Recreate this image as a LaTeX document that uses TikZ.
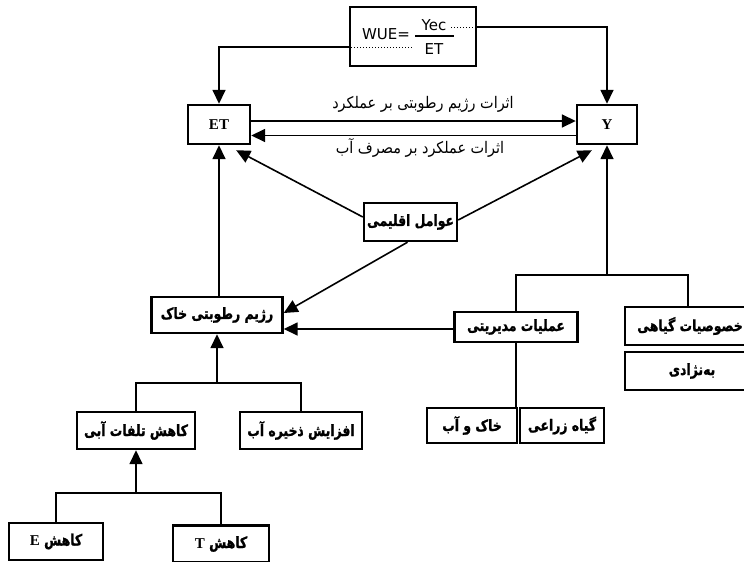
\documentclass[tikz,border=0pt]{standalone}
\usepackage{fontspec}
\usetikzlibrary{arrows.meta}
\TeXXeTstate=1
\newfontfamily\fab[Script=Arabic,FakeStretch=0.8,FakeBold=1.2]{DejaVu Sans Bold}
\newfontfamily\falbl[Script=Arabic,FakeStretch=0.9]{DejaVu Sans}
\newfontfamily\lat{Liberation Serif}
\newfontfamily\fsans{DejaVu Sans}
\begin{document}
\begin{tikzpicture}[x=1pt,y=-1pt,
  box/.style={draw,line width=2.4pt,inner sep=0pt,align=center,font=\fab\fontsize{15.5}{17}\selectfont},
  btxt/.style={inner sep=0pt,font=\fab\fontsize{15.5}{17}\selectfont},
  conn/.style={line width=1.6pt},
  arr/.style={conn,-{Triangle[length=14pt,width=13pt]}},
  lbl/.style={inner sep=0pt,font=\falbl\fontsize{16}{18}\selectfont},
  ftxt/.style={inner sep=0pt,font=\fsans\fontsize{15}{17}\selectfont}]
\useasboundingbox (0,0) rectangle (744,562);
\clip (0,0) rectangle (744,562);
% boxes
\node[box,minimum width=126pt,minimum height=59pt] (wue) at (413,36.5) {};
\node[box,minimum width=62pt,minimum height=39pt] (et) at (219,124.5) {\lat\bfseries\fontsize{15}{17}\selectfont ET};
\node[box,minimum width=60pt,minimum height=39pt] (y) at (607,124.5) {\lat\bfseries\fontsize{15}{17}\selectfont Y};
\node[box,minimum width=93pt,minimum height=38pt] (clim) at (410.5,222) {\beginR عوامل اقلیمی\endR};
\node[box,minimum width=131pt,minimum height=36pt] (soil) at (217,315) {\beginR رژیم رطوبتی خاک\endR};
\node[box,minimum width=123pt,minimum height=30pt] (mgmt) at (516,327) {\beginR عملیات مدیریتی\endR};
\node[box,minimum width=150pt,minimum height=38pt] (plant) at (700,326) {};
\node[btxt] (planttxt) at (690,326) {\beginR خصوصیات گیاهی\endR};
\node[box,minimum width=150pt,minimum height=38pt] (breed) at (700,371) {};
\node[btxt] (breedtxt) at (692,371) {\beginR به‌نژادی\endR};
\node[box,minimum width=90pt,minimum height=35pt] (sw) at (472,425.5) {\beginR خاک و آب\endR};
\node[box,minimum width=84pt,minimum height=35pt] (crop) at (562,425.5) {\beginR گیاه زراعی\endR};
\node[box,minimum width=118pt,minimum height=37pt] (loss) at (136,430.5) {\beginR کاهش تلفات آبی\endR};
\node[box,minimum width=122pt,minimum height=37pt] (store) at (301,430.5) {\beginR افزایش ذخیره آب\endR};
\node[box,minimum width=94pt,minimum height=37pt] (ebox) at (56,541.5) {\beginR کاهش {\lat\bfseries\fontsize{15}{17}\selectfont E}\endR};
\node[box,minimum width=96pt,minimum height=37pt] (tbox) at (221,544) {\beginR کاهش {\lat\bfseries\fontsize{15}{17}\selectfont T}\endR};
% formula
\node[ftxt] (wuet) at (386,34) {WUE=};
\node[ftxt] (yec) at (434,25) {Yec};
\node[ftxt] (etf) at (434,49) {ET};
\draw[line width=1.3pt] (415,36) -- (454,36);
\draw[line width=1pt,dotted] (351,47) -- (413,47);
\draw[line width=1pt,dotted] (451,27) -- (475,27);
% connectors
\draw[arr] ([yshift=-10.5pt]wue.west) -| (et.north);
\draw[arr] ([yshift=9.5pt]wue.east) -| (y.north);
\draw[arr] ([yshift=3.5pt]et.east) -- ([yshift=3.5pt]y.west);
\draw[arr] ([yshift=-11pt]y.east -| y.west) -- ([yshift=-11pt]et.east);
\node[lbl] (l1) at (423,104) {\beginR اثرات رژیم رطوبتی بر عملکرد\endR};
\node[lbl] (l2) at (420,148) {\beginR اثرات عملکرد بر مصرف آب\endR};
\draw[arr] ([yshift=5pt]clim.west) -- ([xshift=-15pt,yshift=-5pt]et.south east);
\draw[arr] ([yshift=2pt]clim.east) -- ([xshift=16pt,yshift=-5pt]y.south west);
\draw[arr] ([xshift=-3pt]clim.south) -- ([yshift=2pt]soil.east);
\draw[arr] (soil.north -| et.south) -- (et.south);
\draw[arr] ([yshift=-2pt]mgmt.west) -- ([yshift=-2pt]mgmt.west -| soil.east);
\coordinate (pj) at (688,275);
\coordinate (yj) at (607,275);
\draw[conn] (mgmt.north) |- (pj) -- (pj |- plant.north);
\draw[arr] (yj) -- (y.south);
\draw[conn] (mgmt.south) -- (mgmt.south |- sw.north);
\coordinate (j1) at (217,383);
\draw[conn] (loss.north) |- (store.north |- j1) -- (store.north);
\draw[arr] (j1) -- (soil.south);
\coordinate (j2) at (136,493);
\draw[conn] (ebox.north) |- (tbox.north |- j2) -- (tbox.north);
\draw[arr] (j2) -- (loss.south);
\end{tikzpicture}
\end{document}
